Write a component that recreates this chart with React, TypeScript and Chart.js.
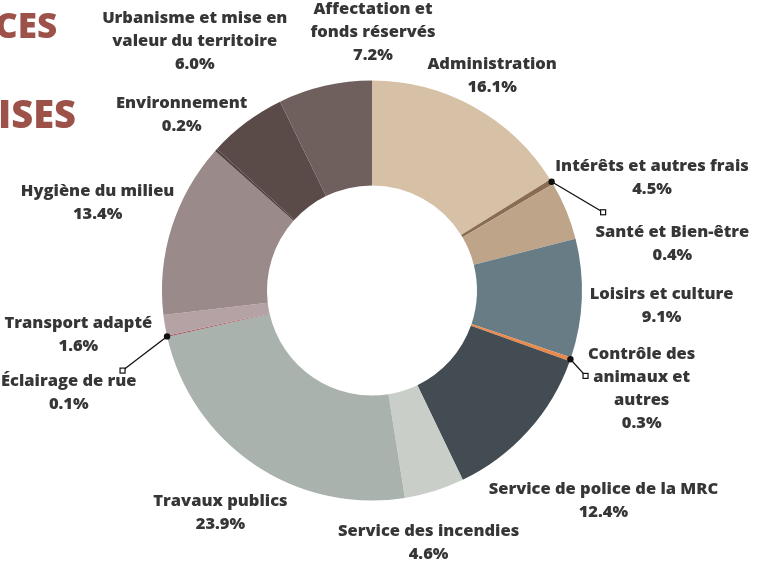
import React, { useEffect, useRef } from "react";
import { Chart, registerables } from "chart.js";

Chart.register(...registerables);

// ---- data ----
const categories = [
  "Administration",
  "Santé et Bien-être",
  "Intérêts et autres frais",
  "Loisirs et culture",
  "Contrôle des animaux et autres",
  "Service de police de la MRC",
  "Service des incendies",
  "Travaux publics",
  "Éclairage de rue",
  "Transport adapté",
  "Hygiène du milieu",
  "Environnement",
  "Urbanisme et mise en valeur du territoire",
  "Affectation et fonds réservés",
];
const labelLines = [
  ["Administration"],
  ["Santé et Bien-être"],
  ["Intérêts et autres frais"],
  ["Loisirs et culture"],
  ["Contrôle des", "animaux et", "autres"],
  ["Service de police de la MRC"],
  ["Service des incendies"],
  ["Travaux publics"],
  ["Éclairage de rue"],
  ["Transport adapté"],
  ["Hygiène du milieu"],
  ["Environnement"],
  ["Urbanisme et mise en", "valeur du territoire"],
  ["Affectation et", "fonds réservés"],
];
const values = [16.1, 0.4, 4.5, 9.1, 0.3, 12.4, 4.6, 23.9, 0.1, 1.6, 13.4, 0.2, 6.0, 7.2];
const colors = [
  "#d6c1a6",
  "#8a6c52",
  "#bea58a",
  "#687c86",
  "#ec8a4c",
  "#434c53",
  "#c9cfc8",
  "#a9b2ad",
  "#a55a5e",
  "#b5a2a5",
  "#9a8a89",
  "#4f4240",
  "#5a4b49",
  "#6f605e",
];
const titleFragments = ["CES", "ISES"];

// ---- label layout (angle shift in degrees from slice middle, distance from centre in px) ----
const labelShift = [0.2, 22.3, 0.4, 0.9, 0.9, 0.3, 4.7, 0.2, -6.0, 0.9, 0.2, 0.7, 1.4, 13.2];
const labelDist = [246, 304, 302, 290, 287, 313, 259, 269, 320, 297, 288, 259, 306, 258];
// leader lines for thin slices: index -> [angle (deg, clockwise from top), distance]
const leaders: Record<number, [number, number]> = {
  1: [71.3, 244],
  4: [111.8, 230],
  8: [252.2, 262],
};

const labelsPlugin = {
  id: "outerLabels",
  afterDraw(chart: any) {
    const ctx = chart.ctx as CanvasRenderingContext2D;
    const meta = chart.getDatasetMeta(0);
    ctx.save();
    // partial title fragments on the left
    ctx.fillStyle = "#9c5249";
    ctx.textAlign = "left";
    ctx.textBaseline = "alphabetic";
    ctx.font = "800 35px 'Open Sans'";
    ctx.fillText(titleFragments[0], -5, 38);
    ctx.font = "800 38px 'Open Sans'";
    ctx.fillText(titleFragments[1], -2, 128);

    const lh = 23;
    meta.data.forEach((arc: any, i: number) => {
      const { x, y, startAngle, endAngle, outerRadius } = arc.getProps(
        ["x", "y", "startAngle", "endAngle", "outerRadius"],
        true
      );
      const mid = (startAngle + endAngle) / 2;
      const a = mid + (labelShift[i] * Math.PI) / 180;
      const cx = x + Math.cos(a) * labelDist[i];
      const cy = y + Math.sin(a) * labelDist[i];
      const lines = [...labelLines[i], values[i].toFixed(1) + "%"];
      const top = cy - ((lines.length - 1) * lh) / 2;
      ctx.fillStyle = "#363636";
      ctx.font = "800 16.5px 'Open Sans'";
      ctx.textAlign = "center";
      ctx.textBaseline = "middle";
      lines.forEach((t, k) => ctx.fillText(t, cx, top + k * lh));

      const ld = leaders[i];
      if (ld) {
        const px = x + Math.cos(mid) * outerRadius;
        const py = y + Math.sin(mid) * outerRadius;
        const la = ((ld[0] - 90) * Math.PI) / 180;
        const qx = x + Math.cos(la) * ld[1];
        const qy = y + Math.sin(la) * ld[1];
        ctx.strokeStyle = "#111";
        ctx.lineWidth = 1.3;
        ctx.beginPath();
        ctx.moveTo(px, py);
        ctx.lineTo(qx, qy);
        ctx.stroke();
        ctx.fillStyle = "#111";
        ctx.beginPath();
        ctx.arc(px, py, 3.2, 0, Math.PI * 2);
        ctx.fill();
        ctx.fillStyle = "#fff";
        ctx.fillRect(qx - 2.5, qy - 2.5, 5, 5);
        ctx.lineWidth = 1.2;
        ctx.strokeRect(qx - 2.5, qy - 2.5, 5, 5);
      }
    });
    ctx.restore();
  },
};

export default function App() {
  const ref = useRef<HTMLCanvasElement | null>(null);
  useEffect(() => {
    if (!ref.current) return;
    const chart = new Chart(ref.current, {
      type: "doughnut",
      data: {
        labels: categories,
        datasets: [
          {
            data: values,
            backgroundColor: colors,
            borderWidth: 0,
          },
        ],
      },
      options: {
        responsive: false,
        animation: false,
        cutout: "50%",
        layout: { padding: { left: 162, right: 178, top: 80, bottom: 68 } },
        plugins: {
          legend: { display: false },
          tooltip: { enabled: false },
        },
      },
      plugins: [labelsPlugin],
    });
    return () => chart.destroy();
  }, []);
  return (
    <div style={{ position: "absolute", left: 0, top: 0, width: 760, height: 569, background: "#fff" }}>
      <canvas ref={ref} width={760} height={569} />
    </div>
  );
}
